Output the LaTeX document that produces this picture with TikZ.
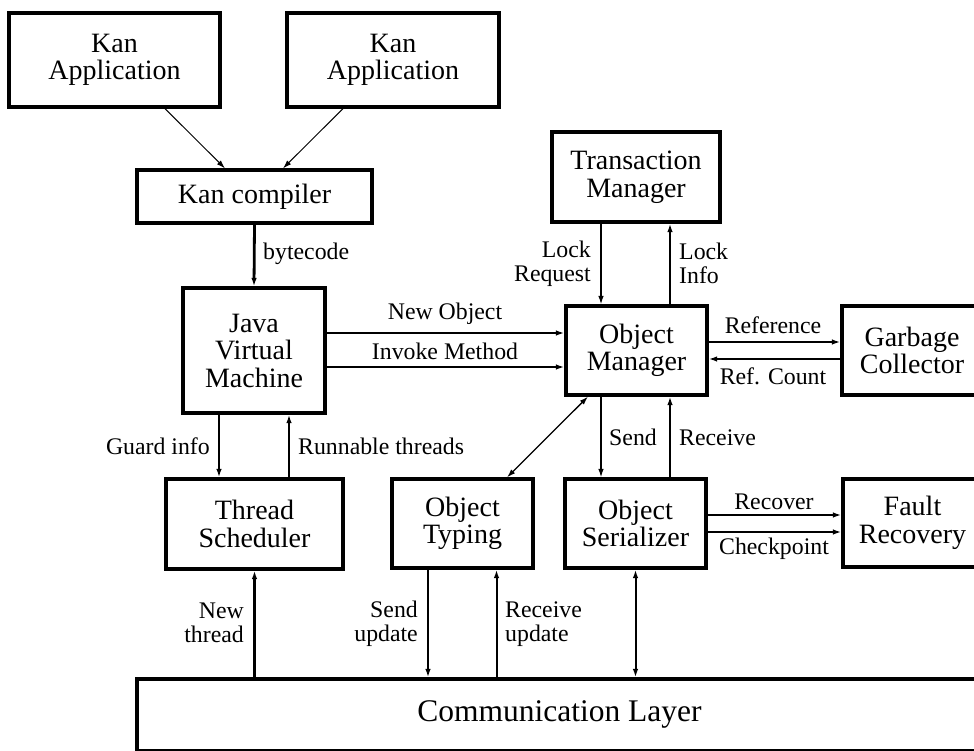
\documentclass[tikz,border=0pt]{standalone}
\usepackage{fontspec}
\setmainfont{Liberation Serif}
\usetikzlibrary{arrows.meta}
\begin{document}
\begin{tikzpicture}[x=1pt,y=-1pt,
  >={Latex[length=8.5pt,width=5.5pt]},
  box/.style={draw,line width=3.2pt,inner sep=0pt,align=center,font=\fontsize{28}{27.5}\selectfont},
  lbl/.style={inner sep=0pt,align=center,font=\fontsize{23.8}{24}\selectfont},
  lblr/.style={lbl,align=right},
  lbll/.style={lbl,align=left},
  wthick/.style={line width=2.8pt},
  wmed/.style={line width=2pt},
  wthin/.style={line width=1.3pt},
  wfine/.style={line width=1pt}
]
\useasboundingbox (0,0) rectangle (974,750);
\clip (0,0) rectangle (974,750);

% boxes
\node[box,minimum width=211pt,minimum height=94pt] (ka1) at (114.5,60) {Kan\\Application};
\node[box,minimum width=212pt,minimum height=94pt] (ka2) at (393,60) {Kan\\Application};
\node[box,minimum width=235pt,minimum height=53pt] (kc) at (254.5,196.5) {Kan compiler};
\node[box,minimum width=142pt,minimum height=125pt] (jvm) at (254,350.5) {Java\\Virtual\\Machine};
\node[box,minimum width=168pt,minimum height=90pt] (tm) at (636,177) {Transaction\\Manager};
\node[box,minimum width=141pt,minimum height=89pt] (om) at (636.5,350.5) {Object\\Manager};
\node[box,minimum width=140pt,minimum height=89pt] (gc) at (912,350.5) {Garbage\\Collector};
\node[box,minimum width=177pt,minimum height=90pt] (ts) at (254.5,524) {Thread\\Scheduler};
\node[box,minimum width=141pt,minimum height=89pt] (ot) at (462.5,523.5) {Object\\Typing};
\node[box,minimum width=141pt,minimum height=89pt] (os) at (635.5,523.5) {Object\\Serializer};
\node[box,minimum width=139pt,minimum height=88pt] (fr) at (912.5,523) {Fault\\Recovery};
\node[box,minimum width=845pt,minimum height=71.5pt,font=\fontsize{31.5}{32}\selectfont] (cl) at (559.5,714.75) {Communication Layer};

% connectors
\draw[->,wfine] ([xshift=50.5pt]ka1.south) -- ([xshift=-29.5pt]kc.north);
\draw[->,wfine] ([xshift=-50pt]ka2.south) -- ([xshift=28.5pt]kc.north);
\draw[->,wthick] (kc.south) -- (jvm.north);
\draw[->,wmed] ([yshift=17.5pt]jvm.east) -- ([yshift=17.5pt]jvm.east -| om.west);
\draw[->,wmed] ([yshift=-16.5pt]jvm.east) -- ([yshift=-16.5pt]jvm.east -| om.west);
\draw[->,wthick] ([xshift=-35pt]jvm.south) -- ([xshift=-35pt]jvm.south |- ts.north);
\draw[->,wmed] ([xshift=35pt]jvm.south |- ts.north) -- ([xshift=35pt]jvm.south);
\draw[->,wthin] ([xshift=-35pt]tm.south) -- ([xshift=-35pt]tm.south |- om.north);
\draw[->,wthick] ([xshift=34pt]tm.south |- om.north) -- ([xshift=34pt]tm.south);
\draw[->,wmed] ([yshift=8.5pt]om.east) -- ([yshift=8.5pt]om.east -| gc.west);
\draw[->,wmed] ([yshift=-8.5pt]om.east -| gc.west) -- ([yshift=-8.5pt]om.east);
\draw[->,wthin] ([xshift=-35.5pt]om.south) -- ([xshift=-35.5pt]om.south |- os.north);
\draw[->,wthick] ([xshift=33.5pt]om.south |- os.north) -- ([xshift=33.5pt]om.south);
\draw[<->,wthin] ([xshift=44.5pt]ot.north) -- ([xshift=-48.5pt]om.south);
\draw[->,wmed] ([yshift=8.5pt]os.east) -- ([yshift=8.5pt]os.east -| fr.west);
\draw[->,wthick] ([yshift=-8.5pt]os.east) -- ([yshift=-8.5pt]os.east -| fr.west);
\draw[->,wthick] (ts.south |- cl.north) -- (ts.south);
\draw[->,wmed] ([xshift=-34.5pt]ot.south) -- ([xshift=-34.5pt]ot.south |- cl.north);
\draw[->,wmed] ([xshift=34pt]ot.south |- cl.north) -- ([xshift=34pt]ot.south);
\draw[<->,wmed] (os.south) -- (os.south |- cl.north);

% labels
\node[lbl,anchor=base west] (l1) at (263,259) {bytecode};
\node[lbl,anchor=base] (l2) at (445,319) {New Object};
\node[lbl,anchor=base] (l3) at (445,359) {Invoke Method};
\node[lbl,anchor=base east] (l4) at (210,454) {Guard info};
\node[lbl,anchor=base west] (l5) at (298,454) {Runnable threads};
\node[lblr,anchor=east] (l6) at (591,264) {Lock\\Request};
\node[lbll,anchor=west] (l7) at (679,263) {Lock\\Info};
\node[lbl,anchor=base] (l8) at (773,333) {Reference};
\node[lbl,anchor=base] (l9) at (773,384) {Ref. Count};
\node[lbl,anchor=base west] (l10) at (609,445) {Send};
\node[lbl,anchor=base west] (l11) at (679,445) {Receive};
\node[lbl,anchor=base] (l12) at (774,509) {Recover};
\node[lbl,anchor=base] (l13) at (774,554) {Checkpoint};
\node[lblr,anchor=east] (l14) at (244,623) {New\\thread};
\node[lblr,anchor=east] (l15) at (418,624) {Send\\update};
\node[lbll,anchor=west] (l16) at (505,624) {Receive\\update};
\end{tikzpicture}
\end{document}
